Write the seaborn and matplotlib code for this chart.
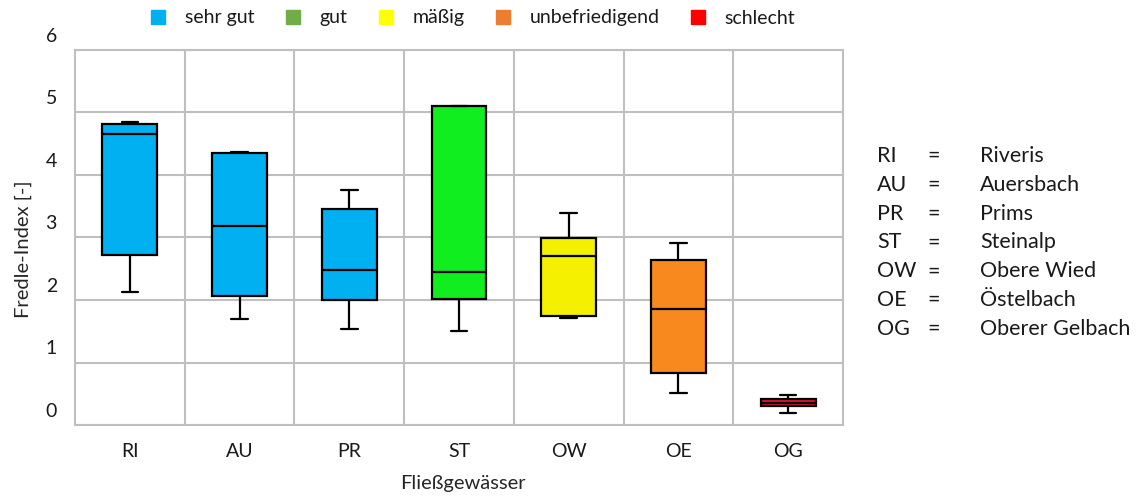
import numpy as np
import pandas as pd
import matplotlib
matplotlib.use("Agg")
import matplotlib.pyplot as plt
from matplotlib.lines import Line2D
from matplotlib.transforms import ScaledTranslation
import seaborn as sns

# Fließgewässer (Kürzel und Namen)
gewaesser = ["RI", "AU", "PR", "ST", "OW", "OE", "OG"]
namen = ["Riveris", "Auersbach", "Prims", "Steinalp", "Obere Wied", "Östelbach", "Oberer Gelbach"]

# Kennwerte des Fredle-Index je Gewässer
minimum = [2.13, 1.70, 1.53, 1.51, 1.72, 0.51, 0.19]
q1 = [2.72, 2.07, 2.00, 2.02, 1.74, 0.84, 0.30]
median = [4.65, 3.18, 2.48, 2.45, 2.71, 1.86, 0.35]
q3 = [4.82, 4.35, 3.46, 5.11, 2.99, 2.64, 0.41]
maximum = [4.84, 4.37, 3.76, 5.11, 3.39, 2.91, 0.48]

# Boxfarben je Gewässer
farben = ["#00B0F0", "#00B0F0", "#00B0F0", "#10EE20", "#F5F000", "#F7891F", "#E8103A"]

# Legende: Bewertungsklassen
klassen = ["sehr gut", "gut", "mäßig", "unbefriedigend", "schlecht"]
klassen_farben = ["#00B0F0", "#70AD47", "#FFFF00", "#ED7D31", "#FF0000"]

y_ticks = [0, 1, 2, 3, 4, 5, 6]

# Fünf Werte je Gewässer: Min, Q1, Median, Q3, Max
rows = []
for g, a, b, c, d, e in zip(gewaesser, minimum, q1, median, q3, maximum):
    for v in (a, b, c, d, e):
        rows.append({"Gewässer": g, "Fredle": v})
df = pd.DataFrame(rows)

sns.set_theme(style="white")
plt.rcParams["font.family"] = ["Lato", "DejaVu Sans"]
plt.rcParams["text.color"] = "#1a1a1a"

fig = plt.figure(figsize=(11.41, 4.98), dpi=100)
ax = fig.add_axes([75 / 1141, 1 - 425 / 498, 768 / 1141, 375 / 498])

sns.boxplot(
    data=df, x="Gewässer", y="Fredle", hue="Gewässer",
    palette=dict(zip(gewaesser, farben)), order=gewaesser, saturation=1,
    whis=np.inf, width=0.5, linecolor="black", linewidth=1.6,
    legend=False, ax=ax, zorder=3, capwidths=0.15,
)

ax.set_ylim(0, 6)
ax.set_xlim(-0.5, len(gewaesser) - 0.5)
ax.set_yticks(y_ticks)
ax.set_yticklabels([str(t) for t in y_ticks])
ax.set_xticks(range(len(gewaesser)))
ax.set_xticklabels(gewaesser)
ax.set_xticks(np.arange(0.5, len(gewaesser) - 0.5, 1), minor=True)

grid_col = "#BFBFBF"
ax.grid(axis="y", which="major", color=grid_col, linewidth=1.5, zorder=0)
ax.grid(axis="x", which="minor", color=grid_col, linewidth=1.5, zorder=0)
ax.set_axisbelow(True)
for s in ax.spines.values():
    s.set_color(grid_col)
    s.set_linewidth(1.5)

ax.tick_params(axis="both", which="both", length=0, labelsize=14, colors="#1a1a1a")
ax.tick_params(axis="y", pad=13)
ax.tick_params(axis="x", pad=13)

# y-Beschriftungen leicht über den Gitterlinien
shift = ScaledTranslation(0, 15 / 100, fig.dpi_scale_trans)
for lab in ax.get_yticklabels():
    lab.set_transform(lab.get_transform() + shift)

ax.set_xlabel("Fließgewässer", fontsize=14.5)
ax.set_ylabel("Fredle-Index [-]", fontsize=14.5)
ax.xaxis.set_label_coords(0.505, -0.132)
ax.yaxis.set_label_coords(-0.056, 0.47)

# Legende oben
handles = [Line2D([0], [0], marker="s", linestyle="none", markersize=10,
                  markerfacecolor=c, markeredgecolor=c) for c in klassen_farben]
fig.legend(handles, klassen, loc="center", bbox_to_anchor=(472 / 1141, 1 - 18 / 498),
           ncol=5, frameon=False, fontsize=14, handletextpad=0.85,
           columnspacing=1.5, handlelength=1.0)

# Erläuterung der Kürzel
for i, (k, n) in enumerate(zip(gewaesser, namen)):
    yb = 1 - (162 + 28.8 * i) / 498
    fig.text(877 / 1141, yb, k, fontsize=15.5, va="baseline", ha="left")
    fig.text(927 / 1141, yb, "=", fontsize=15.5, va="baseline", ha="left")
    fig.text(980 / 1141, yb, n, fontsize=15.5, va="baseline", ha="left")

fig.savefig("out.png", dpi=100)
